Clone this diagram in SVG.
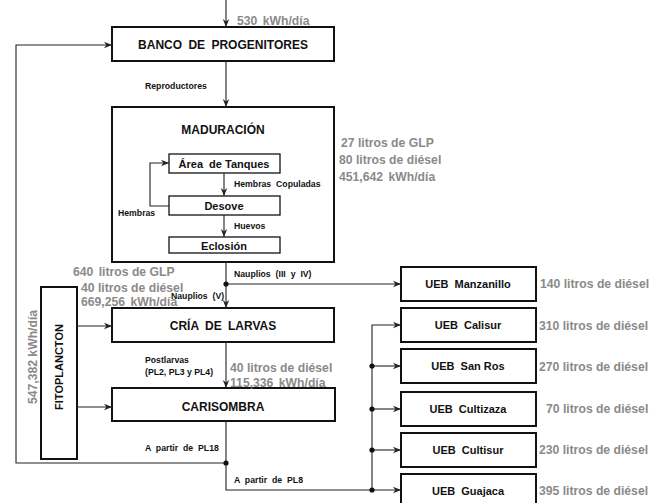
<svg xmlns="http://www.w3.org/2000/svg" width="672" height="503" viewBox="0 0 672 503">
<defs>
<marker id="ar" viewBox="0 0 10 10" refX="10" refY="5" markerWidth="8" markerHeight="8" markerUnits="userSpaceOnUse" orient="auto">
<path d="M0,1 L10,5 L0,9 L3,5 Z" fill="#222"/>
</marker>
</defs>
<style>
.box{fill:#fff;stroke:#111;stroke-width:2}
.ibox{fill:#fff;stroke:#111;stroke-width:1.3}
.ln{fill:none;stroke:#222;stroke-width:1.1}
.t{font-family:"Liberation Sans",Arial,sans-serif;font-weight:bold;fill:#111;text-anchor:middle}
.bt{font-size:12px}
.it{font-size:11px}
.sl{font-family:"Liberation Sans",Arial,sans-serif;font-weight:bold;font-size:8.7px;fill:#111}
.ws{word-spacing:2.5px}
.g{font-family:"Liberation Sans",Arial,sans-serif;font-weight:bold;font-size:12.2px;fill:#8a8a8a}
.dot{fill:#111}
</style>
<rect width="672" height="503" fill="#fff"/>

<g id="banco">
<rect class="box" x="112" y="27" width="222" height="34"/>
<text class="t bt" x="223" y="49" word-spacing="3">BANCO DE PROGENITORES</text>
</g>
<g id="maduracion">
<rect class="box" x="112" y="107" width="222" height="155"/>
<text class="t bt" x="223" y="134">MADURACIÓN</text>
</g>
<g id="tanques">
<rect class="ibox" x="169" y="154" width="111" height="19"/>
<text class="t it" x="224" y="168"><tspan word-spacing="3">Área de</tspan> Tanques</text>
</g>
<g id="desove">
<rect class="ibox" x="169" y="196" width="111" height="19"/>
<text class="t it" x="224" y="210">Desove</text>
</g>
<g id="eclosion">
<rect class="ibox" x="169" y="237" width="111" height="16"/>
<text class="t it" x="224" y="250">Eclosión</text>
</g>
<g id="cria">
<rect class="box" x="112" y="308" width="222" height="34"/>
<text class="t bt" x="223" y="330" word-spacing="3">CRÍA DE LARVAS</text>
</g>
<g id="carisombra">
<rect class="box" x="112" y="388" width="223" height="33"/>
<text class="t bt" x="223" y="411">CARISOMBRA</text>
</g>
<g id="fitoplancton">
<rect class="box" x="41" y="287" width="36" height="172"/>
<text class="t it" transform="translate(63,367) rotate(-90)">FITOPLANCTON</text>
</g>
<g id="manzanillo">
<rect class="box" x="401" y="267" width="135" height="34"/>
<text class="t it" x="468" y="288" word-spacing="3">UEB Manzanillo</text>
</g>
<g id="calisur">
<rect class="box" x="401" y="308" width="135" height="34"/>
<text class="t it" x="468" y="329" word-spacing="3">UEB Calisur</text>
</g>
<g id="sanros">
<rect class="box" x="401" y="349" width="135" height="34"/>
<text class="t it" x="468" y="370"><tspan word-spacing="3">UEB San</tspan> Ros</text>
</g>
<g id="cultizaza">
<rect class="box" x="401" y="392" width="135" height="34"/>
<text class="t it" x="468" y="413" word-spacing="3">UEB Cultizaza</text>
</g>
<g id="cultisur">
<rect class="box" x="401" y="433" width="135" height="34"/>
<text class="t it" x="468" y="454" word-spacing="3">UEB Cultisur</text>
</g>
<g id="guajaca">
<rect class="box" x="401" y="474" width="135" height="34"/>
<text class="t it" x="468" y="495" word-spacing="3">UEB Guajaca</text>
</g>

<g id="connectors">
<path class="ln" d="M226,0 V27" marker-end="url(#ar)"/>
<path class="ln" d="M226,61 V107" marker-end="url(#ar)"/>
<path class="ln" d="M224,173 V196" marker-end="url(#ar)"/>
<path class="ln" d="M224,215 V237" marker-end="url(#ar)"/>
<path class="ln" d="M169,206 H150 V163 H169" marker-end="url(#ar)"/>
<path class="ln" d="M226,262 V308" marker-end="url(#ar)"/>
<path class="ln" d="M226,284 H401" marker-end="url(#ar)"/>
<path class="ln" d="M77,326 H112" marker-end="url(#ar)"/>
<path class="ln" d="M77,407 H112" marker-end="url(#ar)"/>
<path class="ln" d="M226,342 V388" marker-end="url(#ar)"/>
<path class="ln" d="M226,421 V490 H401" marker-end="url(#ar)"/>
<path class="ln" d="M226,463 H16 V45 H112" marker-end="url(#ar)"/>
<path class="ln" d="M372,490 V325 H401" marker-end="url(#ar)"/>
<path class="ln" d="M372,366 H401" marker-end="url(#ar)"/>
<path class="ln" d="M372,409 H401" marker-end="url(#ar)"/>
<path class="ln" d="M372,450 H401" marker-end="url(#ar)"/>
<circle class="dot" cx="226" cy="284" r="2.6"/>
<circle class="dot" cx="226" cy="463" r="2.6"/>
<circle class="dot" cx="372" cy="366" r="2.6"/>
<circle class="dot" cx="372" cy="409" r="2.6"/>
<circle class="dot" cx="372" cy="450" r="2.6"/>
<circle class="dot" cx="372" cy="490" r="2.6"/>
<text class="sl" x="145" y="89">Reproductores</text>
<text class="sl ws" x="234" y="187">Hembras Copuladas</text>
<text class="sl" x="234" y="229">Huevos</text>
<text class="sl" x="118" y="216">Hembras</text>
<text class="sl ws" x="234" y="277">Nauplios (III y IV)</text>
<text class="sl ws" x="171" y="299">Nauplios (V)</text>
<text class="sl" x="145" y="363">Postlarvas</text>
<text class="sl" x="145" y="375">(PL2, PL3 y PL4)</text>
<text class="sl ws" x="145" y="451">A partir de PL18</text>
<text class="sl ws" x="234" y="483">A partir de PL8</text>
</g>

<g id="energia">
<text class="g" x="237" y="25" word-spacing="2">530 kWh/día</text>
<text class="g" x="341" y="147">27 litros de GLP</text>
<text class="g" x="339" y="164">80 litros de diésel</text>
<text class="g" x="339" y="181" word-spacing="2">451,642 kWh/día</text>
<text class="g" x="73" y="276"><tspan word-spacing="2">640 litros</tspan> de GLP</text>
<text class="g" x="81" y="292">40 litros de diésel</text>
<text class="g" x="81" y="306" word-spacing="2">669,256 kWh/día</text>
<text class="g" x="230" y="372">40 litros de <tspan>diésel</tspan></text>
<text class="g" x="230" y="387" word-spacing="2">115,336 kWh/día</text>
<text class="g" transform="translate(37,357) rotate(-90)" text-anchor="middle">547,382 kWh/día</text>
<text class="g" x="540" y="288">140 litros de diésel</text>
<text class="g" x="539" y="330">310 litros de diésel</text>
<text class="g" x="539" y="371">270 litros de diésel</text>
<text class="g" x="546" y="413">70 litros de diésel</text>
<text class="g" x="539" y="454">230 litros de diésel</text>
<text class="g" x="539" y="495">395 litros de diésel</text>
</g>
</svg>
